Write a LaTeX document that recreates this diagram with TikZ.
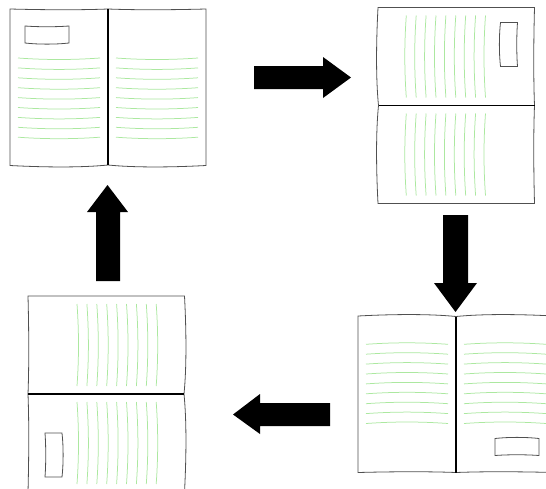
\documentclass[tikz,border=0pt]{standalone}
\begin{document}
\definecolor{pageline}{RGB}{172,232,160}
\definecolor{edge}{RGB}{80,80,80}
\tikzset{
  outline/.style={draw=edge, line width=0.8pt},
  spine/.style={draw=black, line width=1.5pt},
  textline/.style={draw=pageline, line width=0.75pt},
  blockarrow/.style={fill=black, draw=none},
  % open book, 196 x 157 units, centred on the pic origin, label box top-left
  book/.pic={
    % left page
    \path[outline, fill=white] (-98,-78.5) .. controls (-60,-77.5) and (-25,-77.5) .. (0,-78.5)
      -- (0,77.5) .. controls (-25,80) and (-60,80) .. (-98,78) -- cycle;
    % right page
    \path[outline, fill=white] (98,-78.5) .. controls (60,-77.5) and (25,-77.5) .. (0,-78.5)
      -- (0,77.5) .. controls (25,80) and (60,80) .. (98,78) -- cycle;
    % label box
    \path[outline] (-83,-61.5) .. controls (-70,-60.5) and (-52,-60.5) .. (-39,-61.5)
      -- (-39,-44.5) .. controls (-52,-43) and (-70,-43) .. (-83,-44.5) -- cycle;
    % lines of text
    \foreach \i in {0,...,8}{
      \pgfmathsetmacro{\ly}{-29.5+9.9*\i}
      \path[textline] (-90,\ly) .. controls (-62,\ly+2) and (-36,\ly+2) .. (-8,\ly);
      \path[textline] (8,\ly) .. controls (36,\ly+2) and (62,\ly+2) .. (90,\ly);
    }
    % spine
    \path[spine] (0,-78.5) -- (0,77.5);
  }
}
\begin{tikzpicture}[x=1pt, y=-1pt]
  \useasboundingbox (0,0) rectangle (546,488);
  \clip (0,0) rectangle (546,488);
  \fill[white] (0,0) rectangle (546,488);

  % the four positions of the book
  \coordinate (c1) at (108,87.5);
  \coordinate (c2) at (456,105.5);
  \coordinate (c3) at (456,394);
  \coordinate (c4) at (106.5,394);
  \pic (b1) at (c1) {book};
  \pic[rotate=-90] (b2) at (c2) {book};
  \pic[rotate=180] (b3) at (c3) {book};
  \pic[rotate=90] (b4) at (c4) {book};

  % block arrows turning the book
  \path[blockarrow] (254,66) -- (323,66) -- (323,57) -- (351,77.5) -- (323,98) -- (323,89) -- (254,89) -- cycle;
  \path[blockarrow] (443,215) -- (468,215) -- (468,283) -- (477,283) -- (455.5,312) -- (434,283) -- (443,283) -- cycle;
  \path[blockarrow] (330,403) -- (260,403) -- (260,394) -- (233,414.5) -- (260,434) -- (260,426) -- (330,426) -- cycle;
  \path[blockarrow] (96,281) -- (96,212) -- (87,212) -- (107.5,185) -- (128,212) -- (120,212) -- (120,281) -- cycle;
\end{tikzpicture}
\end{document}
